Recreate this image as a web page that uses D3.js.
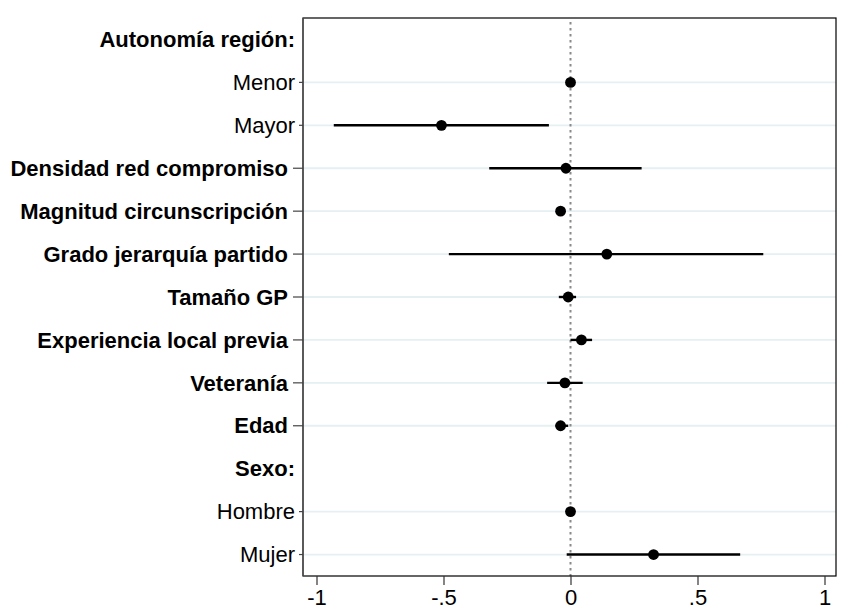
<!DOCTYPE html>
<html>
<head>
<meta charset="utf-8">
<script src="https://cdn.jsdelivr.net/npm/d3@7"></script>
<style>
  html, body { margin: 0; padding: 0; background: #fff; }
  svg { display: block; }
  text { font-family: "Liberation Sans", Arial, sans-serif; }
</style>
</head>
<body>
<svg id="chart" width="843" height="610"></svg>
<script>
// Row labels, top to bottom
const labels = [
  "Autonomía región:", "Menor", "Mayor",
  "Densidad red compromiso", "Magnitud circunscripción",
  "Grado jerarquía partido", "Tamaño GP", "Experiencia local previa",
  "Veteranía", "Edad", "Sexo:", "Hombre", "Mujer"
];
// Row kind: header (group title), level (category of a group), variable
const kinds = [
  "header", "level", "level",
  "variable", "variable", "variable", "variable", "variable",
  "variable", "variable", "header", "level", "level"
];
// Point estimates (null for header rows)
const estimates = [
  null, 0, -0.508,
  -0.018, -0.039, 0.143, -0.009, 0.043,
  -0.022, -0.039, null, 0, 0.327
];
// Confidence interval bounds
const lower = [
  null, 0, -0.932,
  -0.32, -0.045, -0.479, -0.046, 0.0,
  -0.092, -0.059, null, 0, -0.015
];
const upper = [
  null, 0, -0.085,
  0.28, -0.033, 0.759, 0.022, 0.085,
  0.048, -0.009, null, 0, 0.668
];
const xTicks = [-1, -0.5, 0, 0.5, 1];
const xTickLabels = ["-1", "-.5", "0", ".5", "1"];

const svg = d3.select("#chart");
const plotLeft = 303, plotRight = 836, plotTop = 18, plotBottom = 576;
const fontSize = 22;

const x = d3.scaleLinear().domain([-1, 1]).range([316.5, 824.5]);

const y = d3.scaleBand().domain(d3.range(labels.length)).range([plotTop, plotBottom]).padding(0);
const yc = i => y(i) + y.bandwidth() / 2;

const rows = labels.map((l, i) => ({
  label: l, kind: kinds[i], est: estimates[i], lo: lower[i], hi: upper[i], i
}));

// Horizontal grid lines on rows that carry an estimate
svg.append("g").selectAll("line")
  .data(rows.filter(d => d.kind !== "header"))
  .join("line")
  .attr("x1", plotLeft).attr("x2", plotRight)
  .attr("y1", d => yc(d.i)).attr("y2", d => yc(d.i))
  .attr("stroke", "#e6eff2").attr("stroke-width", 1.8);

// Reference line at zero
svg.append("line")
  .attr("x1", x(0)).attr("x2", x(0))
  .attr("y1", plotTop + 4).attr("y2", plotBottom)
  .attr("stroke", "#8a8a8a").attr("stroke-width", 2)
  .attr("stroke-dasharray", "2.5,3.5");

// Confidence intervals
svg.append("g").selectAll("line")
  .data(rows.filter(d => d.est !== null && d.hi > d.lo))
  .join("line")
  .attr("x1", d => x(d.lo)).attr("x2", d => x(d.hi))
  .attr("y1", d => yc(d.i)).attr("y2", d => yc(d.i))
  .attr("stroke", "#000").attr("stroke-width", 2.4);

// Point estimates
svg.append("g").selectAll("circle")
  .data(rows.filter(d => d.est !== null))
  .join("circle")
  .attr("cx", d => x(d.est)).attr("cy", d => yc(d.i))
  .attr("r", 5.4).attr("fill", "#000");

// Plot frame
svg.append("rect")
  .attr("x", plotLeft).attr("y", plotTop)
  .attr("width", plotRight - plotLeft).attr("height", plotBottom - plotTop)
  .attr("fill", "none").attr("stroke", "#000").attr("stroke-width", 1.2);
svg.append("line")
  .attr("x1", plotLeft).attr("x2", plotLeft).attr("y1", plotTop).attr("y2", plotBottom)
  .attr("stroke", "#555").attr("stroke-width", 1.4);

// X axis
const xAxis = d3.axisBottom(x)
  .tickValues(xTicks)
  .tickFormat((d, i) => xTickLabels[i])
  .tickSize(9).tickPadding(4);
const gx = svg.append("g").attr("transform", `translate(0,${plotBottom})`).call(xAxis);
gx.select(".domain").remove();
gx.selectAll(".tick line").attr("stroke", "#333").attr("stroke-width", 1.2);
gx.selectAll(".tick text")
  .attr("font-size", fontSize).attr("fill", "#000")
  .style("font-family", "'Liberation Sans', Arial, sans-serif");

// Y tick marks and labels
const gy = svg.append("g");
rows.forEach(d => {
  const tickLen = d.kind === "variable" ? 10 : (d.kind === "level" ? 4 : 0);
  if (tickLen > 0) {
    gy.append("line")
      .attr("x1", plotLeft - tickLen).attr("x2", plotLeft)
      .attr("y1", yc(d.i)).attr("y2", yc(d.i))
      .attr("stroke", "#444").attr("stroke-width", 1.2);
  }
  const endX = d.kind === "variable" ? plotLeft - 15 : plotLeft - 8;
  gy.append("text")
    .attr("x", endX).attr("y", yc(d.i))
    .attr("dy", "0.35em")
    .attr("text-anchor", "end")
    .attr("font-size", fontSize)
    .attr("font-weight", d.kind === "level" ? "normal" : "bold")
    .attr("fill", "#000")
    .text(d.label);
});
</script>
</body>
</html>
